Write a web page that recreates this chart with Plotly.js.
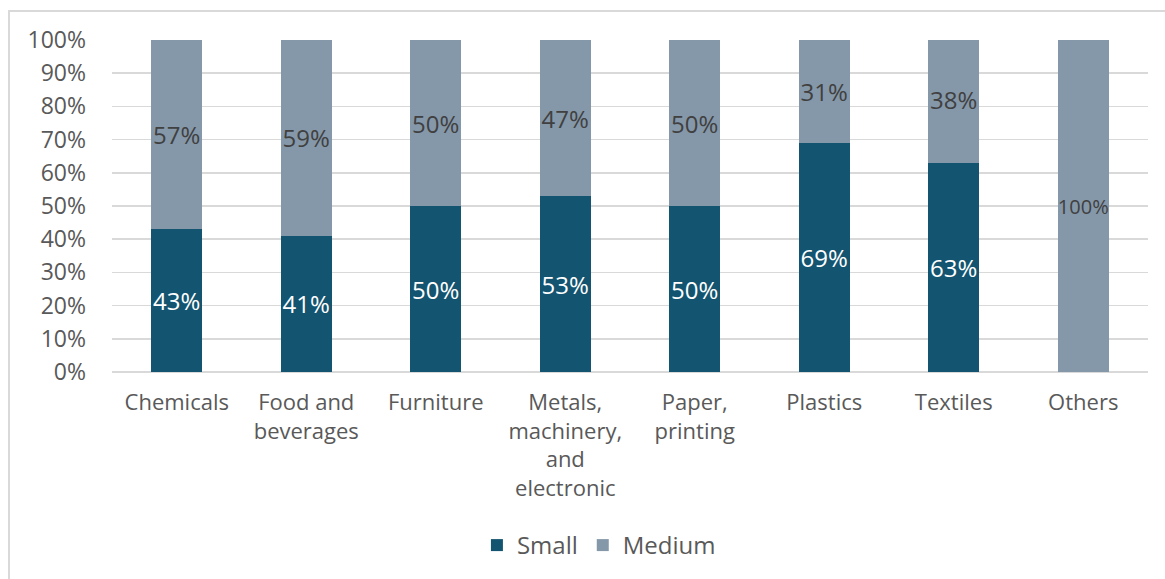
<!DOCTYPE html>
<html>
<head>
<meta charset="utf-8">
<script src="https://cdn.plot.ly/plotly-3.0.1.min.js"></script>
<style>
  html, body { margin: 0; padding: 0; background: #ffffff; }
  #wrap { position: relative; width: 1165px; height: 579px; overflow: hidden; }
  #frame { position: absolute; left: 8px; top: 10px; width: 1170px; height: 600px; border: 2px solid #d9d9d9; box-sizing: border-box; pointer-events: none; z-index: 5; }
  #chart { position: absolute; left: 0; top: 0; width: 1165px; height: 579px; }
</style>
</head>
<body>
<div id="wrap">
  <div id="chart"></div>
  <div id="frame"></div>
</div>
<script>
const categories = ["Chemicals", "Food and<br>beverages", "Furniture", "Metals,<br>machinery,<br>and<br>electronic", "Paper,<br>printing", "Plastics", "Textiles", "Others"];
const smallValues = [43, 41, 50, 53, 50, 69, 63, 0];
const mediumValues = [57, 59, 50, 47, 50, 31, 38, 100];
const yTickVals = [0, 10, 20, 30, 40, 50, 60, 70, 80, 90, 100];
const yTickText = ["0%", "10%", "20%", "30%", "40%", "50%", "60%", "70%", "80%", "90%", "100%"];

const FONT = "Open Sans, Noto Sans, sans-serif";

const traces = [
  {
    type: "bar",
    name: "Small",
    x: categories,
    y: smallValues,
    marker: { color: "#135470" },
    text: smallValues.map(v => v > 0 ? v + "%" : ""),
    textposition: "inside",
    insidetextanchor: "middle",
    constraintext: "none",
    textangle: 0,
    textfont: { family: FONT, size: 24, color: "#ffffff" },
    hoverinfo: "skip"
  },
  {
    type: "bar",
    name: "Medium",
    x: categories,
    y: mediumValues,
    marker: { color: "#8598aa" },
    text: mediumValues.map(v => v + "%"),
    textposition: "inside",
    insidetextanchor: "middle",
    constraintext: "none",
    textangle: 0,
    textfont: { family: FONT, size: mediumValues.map(v => v === 100 ? 20 : 24), color: "#404040" },
    hoverinfo: "skip"
  }
];

const layout = {
  width: 1165,
  height: 579,
  barmode: "stack",
  bargap: 0.605,
  paper_bgcolor: "rgba(0,0,0,0)",
  plot_bgcolor: "#ffffff",
  margin: { l: 112, r: 17, t: 40, b: 206 },
  font: { family: FONT, color: "#595959", size: 22 },
  uniformtext: { mode: false },
  xaxis: {
    type: "category",
    tickfont: { family: FONT, size: 22, color: "#595959" },
    showgrid: false,
    zeroline: false,
    showline: false,
    ticks: "",
    ticklabelstandoff: 15
  },
  yaxis: {
    range: [0, 100],
    tickvals: yTickVals,
    ticktext: yTickText,
    tickfont: { family: FONT, size: 23, color: "#595959" },
    showgrid: true,
    gridcolor: "#d9d9d9",
    gridwidth: 1.5,
    zeroline: true,
    zerolinecolor: "#d9d9d9",
    zerolinewidth: 1.5,
    showline: false,
    ticks: "",
    ticklabelstandoff: 25
  },
  legend: {
    orientation: "h",
    x: 0.47,
    xanchor: "center",
    y: -0.518,
    yanchor: "middle",
    font: { family: FONT, size: 24, color: "#595959" },
    traceorder: "normal",
    itemwidth: 30
  },
  showlegend: true
};

Plotly.newPlot("chart", traces, layout, { displayModeBar: false, staticPlot: true });
</script>
</body>
</html>
